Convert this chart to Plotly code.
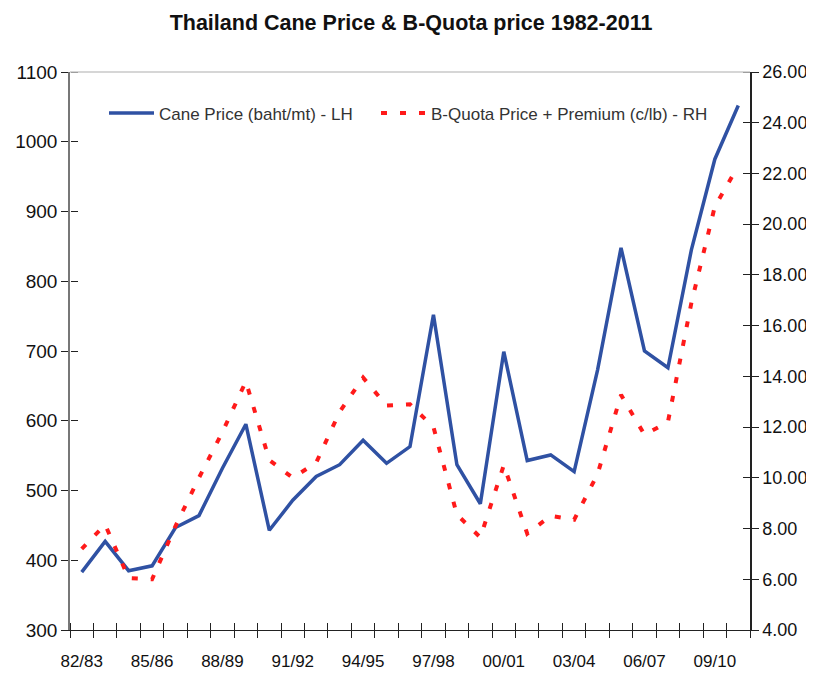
import plotly.graph_objects as go

seasons = ["82/83", "83/84", "84/85", "85/86", "86/87", "87/88", "88/89", "89/90",
           "90/91", "91/92", "92/93", "93/94", "94/95", "95/96", "96/97", "97/98",
           "98/99", "99/00", "00/01", "01/02", "02/03", "03/04", "04/05", "05/06",
           "06/07", "07/08", "08/09", "09/10", "10/11"]
labeled = ["82/83", "85/86", "88/89", "91/92", "94/95", "97/98", "00/01", "03/04", "06/07", "09/10"]

cane_price = [383, 427, 385, 392, 447, 464, 532, 595, 443, 486, 520, 537, 572, 539, 563,
              752, 537, 481, 699, 543, 551, 527, 673, 848, 700, 676, 845, 975, 1052]
quota_price = [7.2, 8.15, 6.05, 6.0, 8.1, 10.0, 11.8, 13.8, 10.7, 10.0, 10.6, 12.6, 13.95, 12.85, 12.9,
               12.0, 8.55, 7.65, 10.5, 7.8, 8.5, 8.35, 10.15, 13.27, 11.7, 12.2, 16.9, 20.7, 22.3]

left_ticks = list(range(300, 1101, 100))
right_ticks = [4 + 2 * i for i in range(12)]

FONT = "Liberation Sans, Arial, sans-serif"
ticktext = [s if s in labeled else "" for s in seasons]
NCAT = len(seasons)
XR = [-0.5, NCAT - 0.5]

# the page body has an 8px margin, so the figure is sized to fit the 814x681 window
W, H = 806, 673

fig = go.Figure()
fig.add_trace(go.Scatter(x=seasons, y=cane_price, name="Cane Price (baht/mt) - LH", mode="lines",
                         line=dict(color="#2F51A3", width=3.5), legend="legend"))
fig.add_trace(go.Scatter(x=seasons, y=quota_price, name="B-Quota Price + Premium (c/lb) - RH", mode="lines",
                         yaxis="y2", line=dict(color="#FF1A1A", width=4, dash="6px,13px"), legend="legend2"))
# invisible helper traces so the overlay axes (inward tick halves) get drawn
fig.add_trace(go.Scatter(x=seasons, y=cane_price, mode="lines", xaxis="x2", yaxis="y3",
                         line=dict(width=0), opacity=0, showlegend=False, hoverinfo="skip"))
fig.add_trace(go.Scatter(x=seasons, y=quota_price, mode="lines", xaxis="x2", yaxis="y4",
                         line=dict(width=0), opacity=0, showlegend=False, hoverinfo="skip"))

tk = dict(ticklen=7, tickwidth=1.3, tickcolor="#222", automargin=False,
          showgrid=False, zeroline=False)
fig.update_layout(
    width=W, height=H,
    margin=dict(l=62, r=64, t=64, b=51),
    paper_bgcolor="white", plot_bgcolor="white",
    font=dict(family=FONT, color="#111"),
    title=dict(text="<b>Thailand Cane Price & B-Quota price 1982-2011</b>", x=0.5, xanchor="center",
               y=1 - 14 / H, yanchor="middle", yref="container",
               font=dict(family=FONT, size=21.5, color="#111")),
    showlegend=True,
    legend=dict(orientation="h", x=0.05, y=0.958, xanchor="left", yanchor="top", itemwidth=45,
                bgcolor="rgba(0,0,0,0)", font=dict(family=FONT, size=17, color="#333")),
    legend2=dict(orientation="h", x=0.45, y=0.958, xanchor="left", yanchor="top", itemwidth=45,
                 bgcolor="rgba(0,0,0,0)", font=dict(family=FONT, size=17, color="#333")),
    xaxis=dict(type="category", categoryorder="array", categoryarray=seasons, range=XR,
               tickmode="array", tickvals=seasons, ticktext=ticktext, tickson="boundaries",
               tickangle=0, ticks="outside", showline=True, linecolor="#222", linewidth=1.3,
               ticklabelstandoff=15, tickfont=dict(size=17, color="#111"), **tk),
    xaxis2=dict(type="category", categoryorder="array", categoryarray=seasons, range=XR,
                overlaying="x", side="top", anchor="free", position=0,
                tickmode="array", tickvals=seasons, ticktext=[""] * NCAT, tickson="boundaries",
                ticks="outside", showline=False, showticklabels=False, **tk),
    yaxis=dict(range=[300, 1100], tickmode="array", tickvals=left_ticks,
               ticks="outside", showline=True, linecolor="#777", linewidth=1.5,
               tickfont=dict(size=19, color="#111"), **tk),
    yaxis2=dict(range=[4, 26], tickmode="array", tickvals=right_ticks, tickformat=".2f",
                overlaying="y", side="right", anchor="x",
                ticks="outside", showline=True, linecolor="#222", linewidth=1.5,
                tickfont=dict(size=18, color="#111"), **tk),
    yaxis3=dict(range=[300, 1100], overlaying="y", side="right", anchor="free", position=0,
                tickmode="array", tickvals=left_ticks, ticks="outside", showticklabels=False,
                showline=False, **tk),
    yaxis4=dict(range=[4, 26], overlaying="y", side="left", anchor="free", position=1,
                tickmode="array", tickvals=right_ticks, ticks="outside", showticklabels=False,
                showline=False, **tk),
    shapes=[dict(type="line", xref="paper", yref="paper", x0=0, x1=1, y0=1, y1=1,
                 line=dict(color="#C8C8C8", width=1.5))],
)

fig.write_html("out.html")
